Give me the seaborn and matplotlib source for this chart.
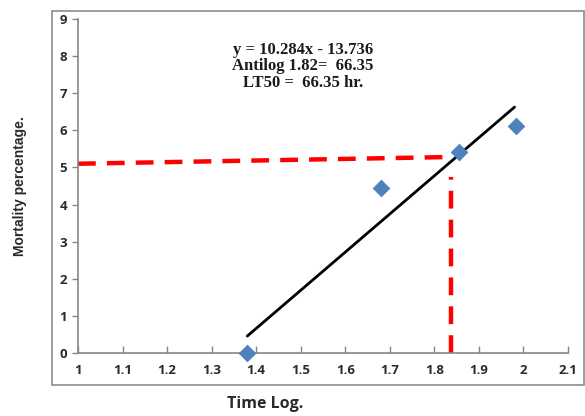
import matplotlib
matplotlib.use("Agg")
import matplotlib.pyplot as plt
import seaborn as sns
import numpy as np
import pandas as pd
from matplotlib.patches import Rectangle

# Data
time_log = [1.38, 1.68, 1.855, 1.983]
mortality = [0.0, 4.45, 5.42, 6.13]
slope = 10.284
intercept = -13.736
fit_x = [1.38, 1.98]
lt50_x = 1.838
ref_h_x = [1.0, 1.83]
ref_h_y = [5.1, 5.28]
ref_v_y = [0.0, 4.75]
xticks = [1, 1.1, 1.2, 1.3, 1.4, 1.5, 1.6, 1.7, 1.8, 1.9, 2, 2.1]
xticklabels = ["1", "1.1", "1.2", "1.3", "1.4", "1.5", "1.6", "1.7", "1.8", "1.9", "2", "2.1"]
yticks = list(range(0, 10))
annotation = "y = 10.284x - 13.736\nAntilog 1.82=  66.35\nLT50 =  66.35 hr."

sns.set_theme(style="white")
plt.rcParams['font.family'] = ['Open Sans', 'DejaVu Sans']

fig = plt.figure(figsize=(5.85, 4.16), dpi=100)
ax = fig.add_axes([78/585, 1-353/416, (568-78)/585, (353-19)/416])

df = pd.DataFrame({"x": time_log, "y": mortality})
fit_y = [slope * v + intercept for v in fit_x]

ax.plot(ref_h_x, ref_h_y, color="#FF0000", lw=3.2, dashes=(4, 2.5), zorder=2)
ax.plot([lt50_x, lt50_x], ref_v_y, color="#FF0000", lw=3.2, dashes=(4, 2.5), zorder=2)
sns.lineplot(x=fit_x, y=fit_y, ax=ax, color="black", lw=2, zorder=3)
sns.scatterplot(data=df, x="x", y="y", ax=ax, marker="D", s=70, color="#4F81BD",
                edgecolor="#4F81BD", zorder=4, clip_on=False)

ax.set_xlim(1, 2.1)
ax.set_ylim(0, 9)
ax.set_xticks(xticks)
ax.set_xticklabels(xticklabels)
ax.set_yticks(yticks)
for s in ["top", "right"]:
    ax.spines[s].set_visible(False)
for s in ["left", "bottom"]:
    ax.spines[s].set_color("#868686")
    ax.spines[s].set_linewidth(1.2)
ax.tick_params(axis="x", direction="in", length=5, color="#868686", width=1,
               labelsize=9.5, pad=8, labelcolor="#2a2a2a")
ax.tick_params(axis="y", direction="out", length=4, color="#868686", width=1,
               labelsize=9.5, pad=4, labelcolor="#2a2a2a")
ax.tick_params(left=True, bottom=True)
for lab in ax.get_xticklabels() + ax.get_yticklabels():
    lab.set_fontweight("bold")

ax.set_xlabel("")
ax.set_ylabel("")
fig.text(265/585, 1-404/416, "Time Log.", ha="center", va="center",
         fontsize=11.5, fontweight="bold", color="#2a2a2a")
fig.text(20/585, 1-186/416, "Mortality percentage.", ha="center", va="center",
         rotation=90, fontsize=10, fontweight="bold", color="#2a2a2a",
         family="Liberation Sans")

ax.text(1.0 + (303-78)/445.5, 7.73, annotation, ha="center", va="center",
        family="Liberation Serif", fontsize=12, fontweight="bold",
        color="#1a1a1a", linespacing=1.05)

fig.add_artist(Rectangle((52/585, 1-385/416), (584-52)/585, (385-11)/416,
                         transform=fig.transFigure, fill=False,
                         edgecolor="#8c8c8c", lw=1.2))

fig.savefig("out.png", dpi=100)
